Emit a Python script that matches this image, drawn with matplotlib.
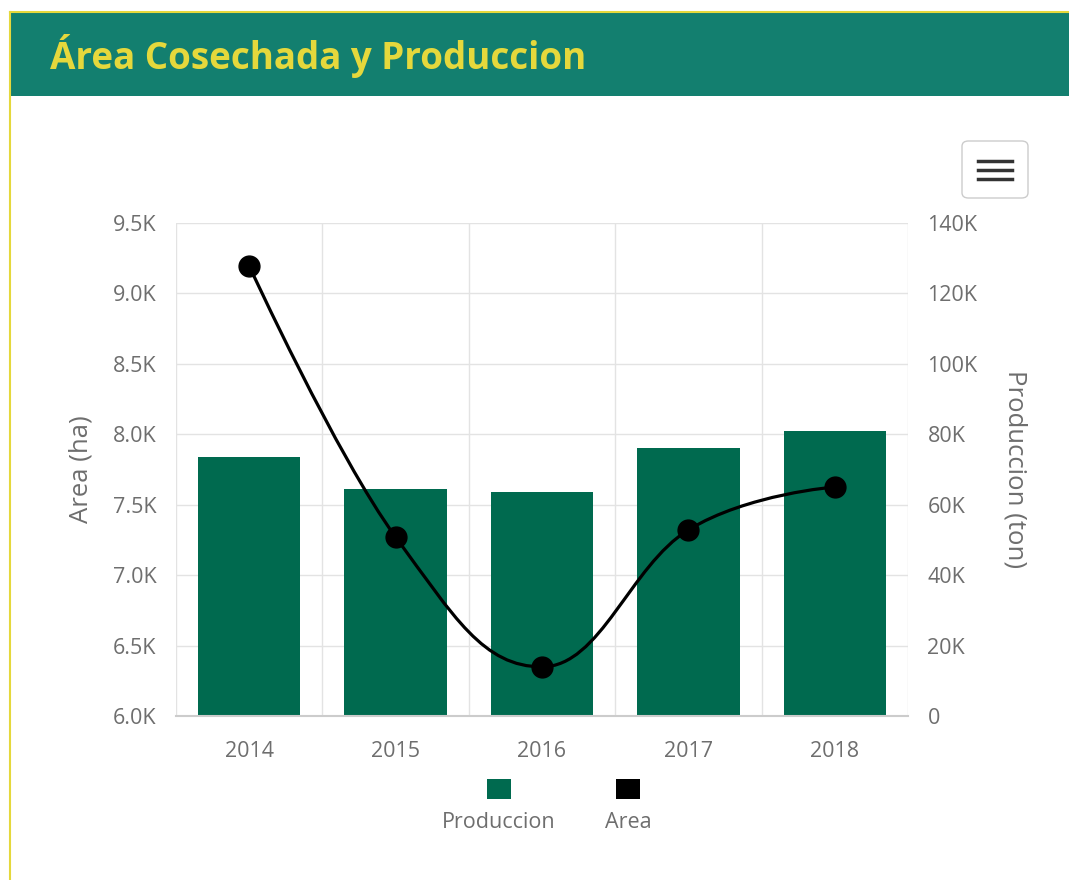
import matplotlib
matplotlib.use("Agg")
import matplotlib.pyplot as plt
from matplotlib.patches import Rectangle, FancyBboxPatch, PathPatch
from matplotlib.path import Path
from matplotlib.ticker import FuncFormatter

plt.rcParams['font.family'] = ['Open Sans', 'DejaVu Sans']

years = ["2014", "2015", "2016", "2017", "2018"]
produccion = [73600, 64500, 63600, 76100, 80900]   # ton, right axis
area = [9195, 7271, 6349, 7321, 7626]              # ha, left axis

bar_color = "#006a4f"
header_color = "#137f6f"
title_color = "#e5d83c"
grid_color = "#e3e3e3"
label_color = "#6e6e6e"


def spline_path(xs, ys, smoothing=1.5):
    # control points the way Highcharts builds its "spline" series
    n = len(xs)
    rc = [None] * n
    lc = [None] * n
    denom = smoothing + 1
    for i in range(1, n - 1):
        px, py = xs[i], ys[i]
        lx, ly = xs[i - 1], ys[i - 1]
        nx, ny = xs[i + 1], ys[i + 1]
        lcx = (smoothing * px + lx) / denom
        lcy = (smoothing * py + ly) / denom
        rcx = (smoothing * px + nx) / denom
        rcy = (smoothing * py + ny) / denom
        if rcx != lcx:
            corr = (rcy - lcy) * (rcx - px) / (rcx - lcx) + py - rcy
            lcy += corr
            rcy += corr
        if lcy > ly and lcy > py:
            lcy = max(ly, py)
            rcy = 2 * py - lcy
        elif lcy < ly and lcy < py:
            lcy = min(ly, py)
            rcy = 2 * py - lcy
        if rcy > ny and rcy > py:
            rcy = max(ny, py)
            lcy = 2 * py - rcy
        elif rcy < ny and rcy < py:
            rcy = min(ny, py)
            lcy = 2 * py - rcy
        lc[i] = (lcx, lcy)
        rc[i] = (rcx, rcy)
    verts = [(xs[0], ys[0])]
    codes = [Path.MOVETO]
    for i in range(1, n):
        c1 = rc[i - 1] if rc[i - 1] else (xs[i - 1], ys[i - 1])
        c2 = lc[i] if lc[i] else (xs[i], ys[i])
        verts += [c1, c2, (xs[i], ys[i])]
        codes += [Path.CURVE4] * 3
    return Path(verts, codes)


W, H = 1069, 880
fig = plt.figure(figsize=(W / 100, H / 100), dpi=100)
fig.patch.set_facecolor("white")

# card header and border
fig.patches.append(Rectangle((10 / W, 1 - 96 / H), 1, 84 / H,
                             transform=fig.transFigure, facecolor=header_color,
                             edgecolor="none", zorder=0))
fig.lines.append(plt.Line2D([10 / W, 1], [1 - 12 / H, 1 - 12 / H],
                            transform=fig.transFigure, color=title_color, lw=1.5))
fig.lines.append(plt.Line2D([10 / W, 10 / W], [0, 1 - 12 / H],
                            transform=fig.transFigure, color=title_color, lw=1.5))
fig.text(50 / W, 1 - 56 / H, "Área Cosechada y Produccion", color=title_color,
         fontsize=26.5, fontweight="bold", va="center", ha="left")

# menu button
fig.patches.append(FancyBboxPatch((962 / W, 1 - 198 / H), 66 / W, 57 / H,
                                  boxstyle="round,pad=0,rounding_size=0.006",
                                  transform=fig.transFigure, facecolor="white",
                                  edgecolor="#cccccc", lw=1))
for yy in (161, 170, 179):
    fig.lines.append(plt.Line2D([978 / W, 1012 / W], [1 - yy / H] * 2,
                                transform=fig.transFigure, color="#333333", lw=2.5))

ax = fig.add_axes([176 / W, 1 - 716 / H, 732 / W, 493 / H])
ax2 = ax.twinx()

x = list(range(len(years)))

# bars on the right axis, drawn below the line axes
ax2.bar(x, produccion, width=0.7, color=bar_color, zorder=2)
ax2.set_ylim(0, 140000)
ax2.set_yticks(range(0, 140001, 20000))
ax2.yaxis.set_major_formatter(FuncFormatter(lambda v, p: "0" if v == 0 else f"{int(v / 1000)}K"))
for v in ax2.get_yticks():
    ax2.axhline(v, color=grid_color, lw=1, zorder=0)
for b in [i - 0.5 for i in range(len(years) + 1)]:
    ax2.axvline(b, color=grid_color, lw=1, zorder=0)

ax.set_ylim(6000, 9500)
ax.set_yticks([6000 + 500 * i for i in range(8)])
ax.yaxis.set_major_formatter(FuncFormatter(lambda v, p: f"{v / 1000:.1f}K"))
ax.set_xlim(-0.5, len(years) - 0.5)
ax.set_xticks(x)
ax.set_xticklabels(years)
ax.set_zorder(ax2.get_zorder() + 1)
ax.patch.set_visible(False)
ax2.patch.set_visible(False)

ax.add_patch(PathPatch(spline_path(x, area), facecolor="none", edgecolor="black",
                       lw=2.3, zorder=3))
ax.plot(x, area, "o", color="black", markersize=15, zorder=4)

for a in (ax, ax2):
    for s in a.spines.values():
        s.set_visible(False)
    a.tick_params(axis="both", length=0, labelsize=15.5, labelcolor=label_color)
ax.spines["bottom"].set_visible(True)
ax.spines["bottom"].set_color("#cccccc")
ax.spines["bottom"].set_linewidth(1.5)
ax.tick_params(axis="x", pad=18)
ax.tick_params(axis="y", pad=14)
ax2.tick_params(axis="y", pad=14)

ax.set_ylabel("Area (ha)", fontsize=18.5, color=label_color, labelpad=14)
ax2.set_ylabel("Produccion (ton)", fontsize=18.5, color=label_color, rotation=270,
               labelpad=36)

# legend: symbol above label
for cx, col, lab in ((499, bar_color, "Produccion"), (628, "black", "Area")):
    fig.patches.append(Rectangle(((cx - 12) / W, 1 - 799 / H), 24 / W, 20 / H,
                                 transform=fig.transFigure, facecolor=col,
                                 edgecolor="none"))
    fig.text(cx / W, 1 - 822 / H, lab, ha="center", va="center",
             fontsize=15.5, color=label_color)

fig.savefig("out.png", dpi=100)
